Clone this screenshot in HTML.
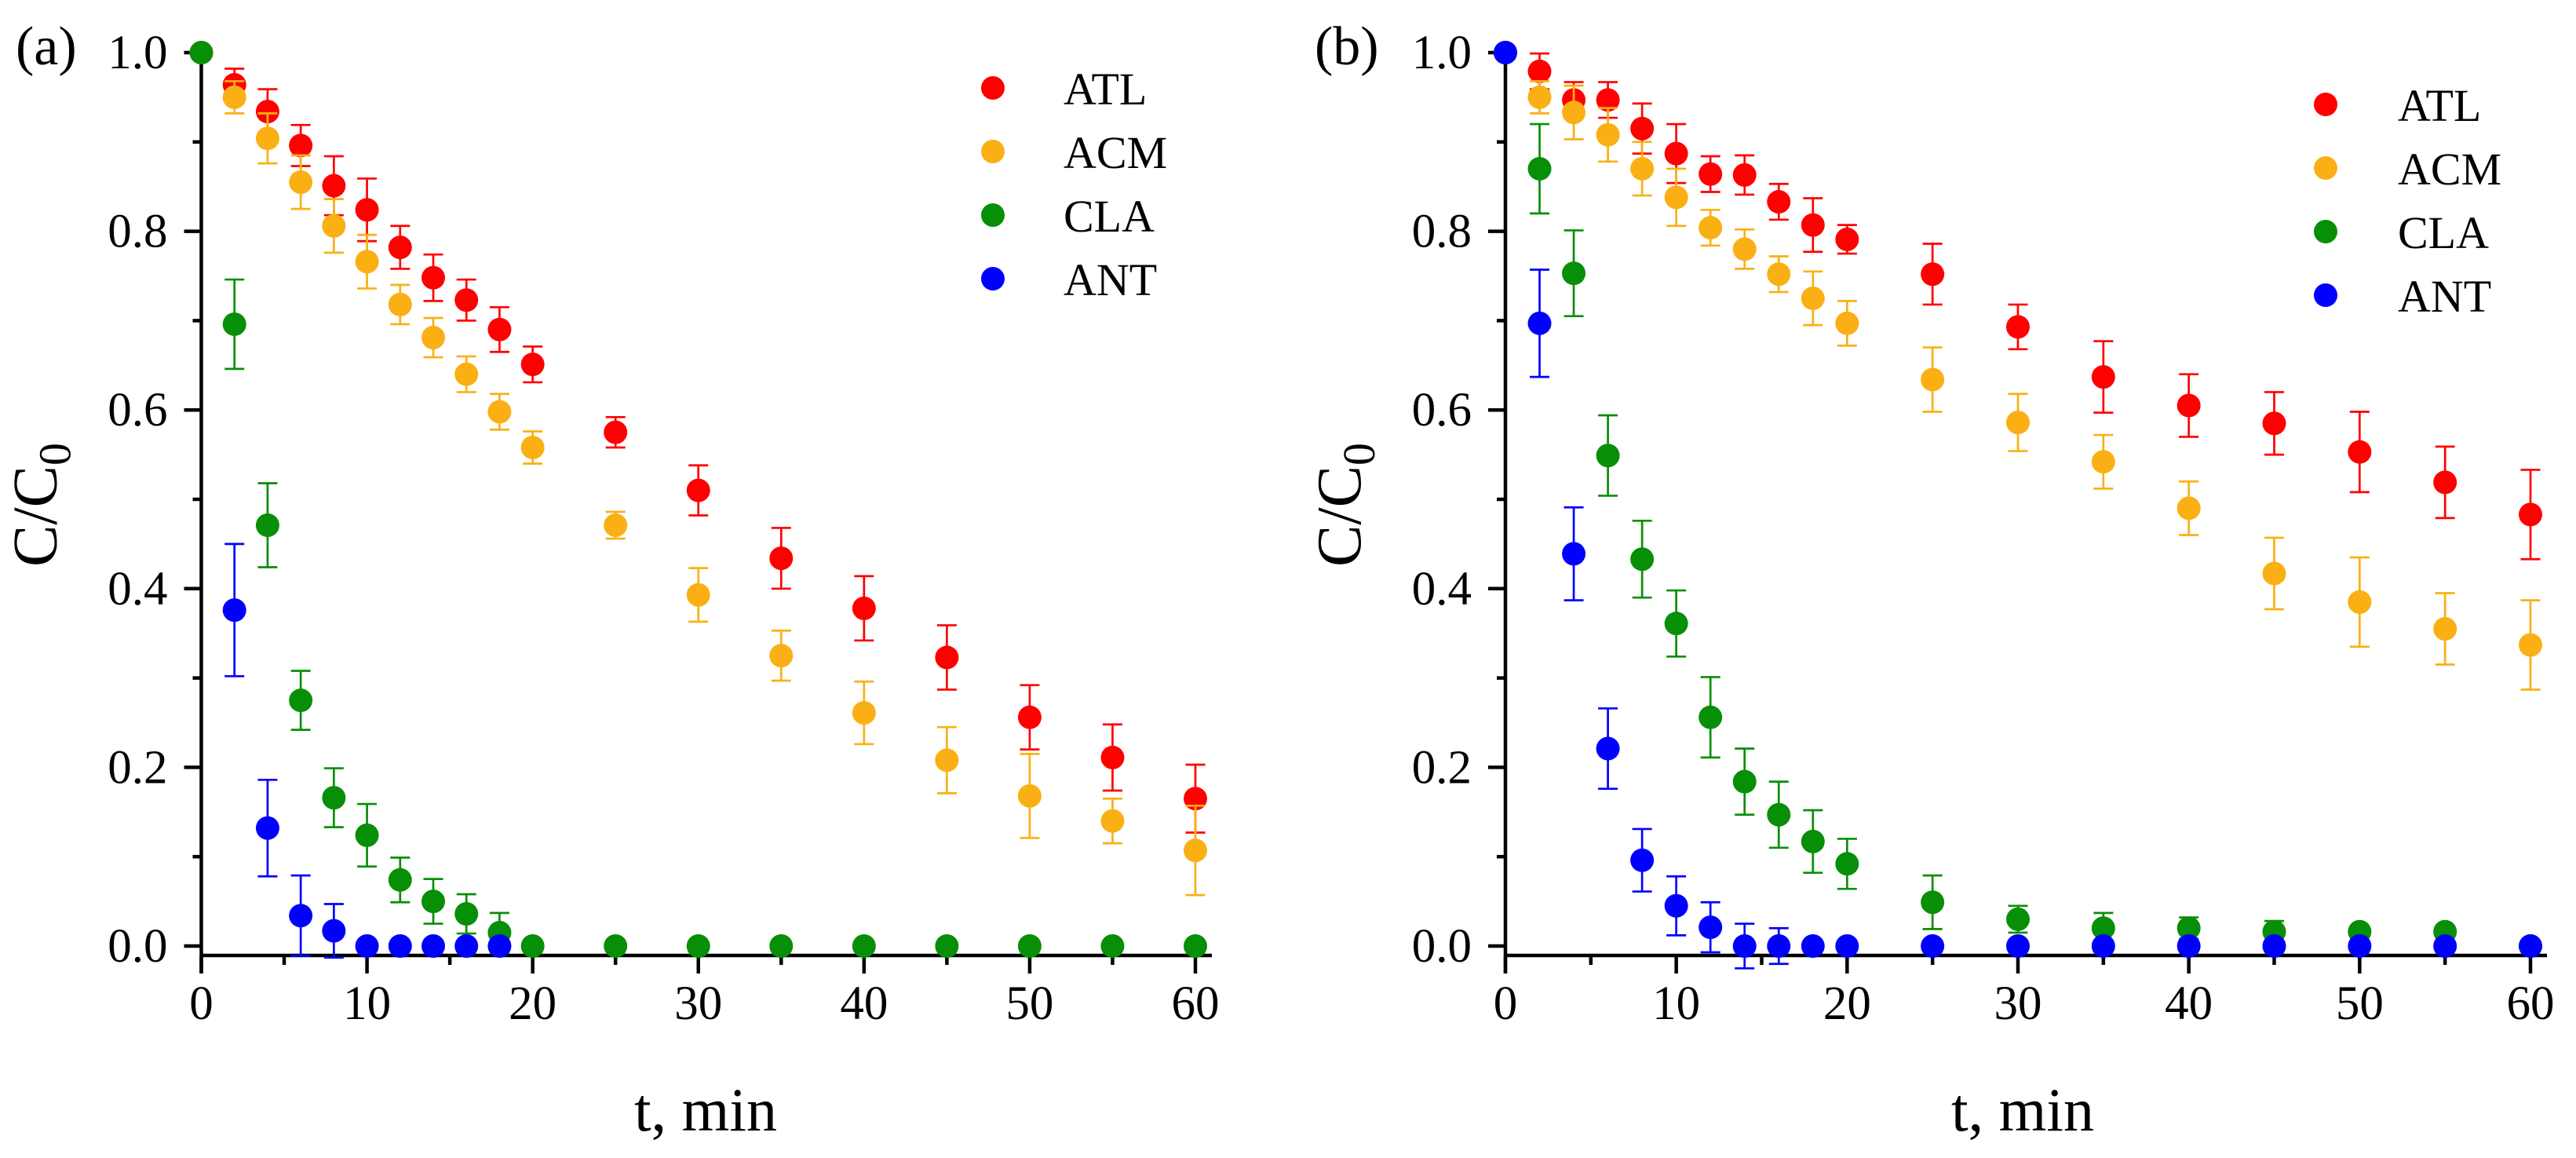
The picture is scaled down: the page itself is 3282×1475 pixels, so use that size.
<!DOCTYPE html>
<html><head><meta charset="utf-8"><style>
html,body{margin:0;padding:0;background:#fff;width:3282px;height:1475px;overflow:hidden}
svg{display:block}
text{font-family:"Liberation Serif",serif;fill:#000}
</style></head><body>
<svg id="fig" width="3282" height="1475" viewBox="0 0 3282 1475" xmlns="http://www.w3.org/2000/svg"></svg>
<script>
const times = [0,2,4,6,8,10,12,14,16,18,20,25,30,35,40,45,50,55,60];
const xTicks = [0,10,20,30,40,50,60];
const yTicks = [0,0.2,0.4,0.6,0.8,1.0];
const yTickLabels = ["0.0","0.2","0.4","0.6","0.8","1.0"];
const seriesNames = ["ATL","ACM","CLA","ANT"];
// Panel (a)
const aATL = [1,0.964,0.934,0.896,0.851,0.824,0.782,0.748,0.723,0.690,0.651,0.575,0.510,0.434,0.378,0.323,0.256,0.211,0.165];
const aATLerr = [0,0.018,0.025,0.023,0.033,0.035,0.024,0.026,0.023,0.025,0.020,0.017,0.028,0.034,0.036,0.036,0.036,0.037,0.038];
const aACM = [1,0.950,0.904,0.855,0.806,0.766,0.718,0.681,0.640,0.598,0.558,0.471,0.393,0.325,0.261,0.208,0.168,0.140,0.107];
const aACMerr = [0,0.018,0.028,0.030,0.030,0.030,0.022,0.022,0.020,0.020,0.018,0.015,0.030,0.028,0.035,0.037,0.047,0.025,0.050];
const aCLA = [1,0.696,0.471,0.275,0.166,0.124,0.074,0.050,0.036,0.015,0,0,0,0,0,0,0,0,0];
const aCLAerr = [0,0.050,0.047,0.033,0.033,0.035,0.025,0.025,0.022,0.022,0,0,0,0,0,0,0,0,0];
const aANT = [null,0.376,0.132,0.034,0.017,0,0,0,0,0,null,null,null,null,null,null,null,null,null];
const aANTerr = [0,0.074,0.054,0.045,0.030,0,0,0,0,0,0,0,0,0,0,0,0,0,0];
// Panel (b)
const bATL = [1,0.979,0.947,0.947,0.915,0.887,0.864,0.863,0.833,0.807,0.791,0.752,0.693,0.637,0.605,0.585,0.553,0.519,0.483];
const bATLerr = [0,0.020,0.020,0.020,0.028,0.033,0.020,0.022,0.020,0.030,0.016,0.034,0.025,0.040,0.035,0.035,0.045,0.040,0.050];
const bACM = [1,0.950,0.933,0.908,0.870,0.838,0.804,0.780,0.752,0.725,0.697,0.634,0.586,0.542,0.490,0.417,0.385,0.355,0.337];
const bACMerr = [0,0.018,0.030,0.030,0.030,0.032,0.020,0.022,0.020,0.030,0.025,0.036,0.032,0.030,0.030,0.040,0.050,0.040,0.050];
const bCLA = [1,0.870,0.753,0.549,0.433,0.361,0.256,0.184,0.147,0.117,0.092,0.049,0.030,0.020,0.020,0.016,0.016,0.016,0];
const bCLAerr = [0,0.050,0.048,0.045,0.043,0.037,0.045,0.037,0.037,0.035,0.028,0.030,0.015,0.017,0.012,0.012,0,0,0];
const bANT = [1,0.697,0.439,0.221,0.096,0.045,0.021,0,0,0,0,0,0,0,0,0,0,0,0];
const bANTerr = [0,0.060,0.052,0.045,0.035,0.033,0.028,0.025,0.020,0,0,0,0,0,0,0,0,0,0];

const colors = ["#ff0000","#fab014","#078f07","#0000ff"];
const NS = "http://www.w3.org/2000/svg";
const svg = document.getElementById("fig");
function mk(tag, attrs, parent){const e=document.createElementNS(NS,tag);for(const k in attrs)e.setAttribute(k,attrs[k]);(parent||svg).appendChild(e);return e;}

const panels = [
  {id:"a", label:"(a)", x0:256.5, x60:1523, axisEnd:1544, labelX:20, legX:1265, legTextX:1355, legY:112,
   data:[[aATL,aATLerr],[aACM,aACMerr],[aCLA,aCLAerr],[aANT,aANTerr]], xlabelCx:899},
  {id:"b", label:"(b)", x0:1918, x60:3224, axisEnd:3245, labelX:1675, legX:2963, legTextX:3055, legY:133,
   data:[[bATL,bATLerr],[bACM,bACMerr],[bCLA,bCLAerr],[bANT,bANTerr]], xlabelCx:2577}
];
const Y0 = 1205, Y1 = 67, AXY = 1217;

panels.forEach(p=>{
  const g = mk("g",{});
  
  
  const xs = v => p.x0 + (p.x60-p.x0)*v/60;
  const ys = v => Y0 + (Y1-Y0)*v;
  // axes
  const ya = mk("line",{x1:p.x0,y1:Y1-2,x2:p.x0,y2:1240,stroke:"#000","stroke-width":4.5},g);
  
  
  const xa = mk("line",{x1:p.x0-2,y1:AXY,x2:p.axisEnd,y2:AXY,stroke:"#000","stroke-width":4.5},g);
  
  
  // y ticks
  yTicks.forEach((t,i)=>{
    mk("line",{x1:p.x0-22,y1:ys(t),x2:p.x0,y2:ys(t),stroke:"#000","stroke-width":4.5},g);
    const tx = mk("text",{x:p.x0-43,y:ys(t)+20,"font-size":61,"text-anchor":"end"},g);
    tx.textContent = yTickLabels[i];
    
    
    if(i<yTicks.length-1){const m=(t+yTicks[i+1])/2; mk("line",{x1:p.x0-11,y1:ys(m),x2:p.x0,y2:ys(m),stroke:"#000","stroke-width":4.5},g);}
  });
  // x ticks
  xTicks.forEach((t,i)=>{
    mk("line",{x1:xs(t),y1:AXY,x2:xs(t),y2:1240,stroke:"#000","stroke-width":4.5},g);
    const tx = mk("text",{x:xs(t),y:1298,"font-size":61,"text-anchor":"middle"},g);
    tx.textContent = String(t);
    
    
    if(i<xTicks.length-1){const m=t+5; mk("line",{x1:xs(m),y1:AXY,x2:xs(m),y2:1229,stroke:"#000","stroke-width":4.5},g);}
  });
  // axis titles
  const xl = mk("text",{x:p.xlabelCx,y:1440,"font-size":78,"text-anchor":"middle"},g);
  xl.textContent = "t, min";
  
  
  const yl = mk("text",{transform:`translate(${p.x0-185},643) rotate(-90)`,"font-size":80,"text-anchor":"middle"},g);
  
  
  yl.innerHTML = 'C/C<tspan dy="18" font-size="58">0</tspan>';
  const pl = mk("text",{x:p.labelX,y:82,"font-size":70},g);
  pl.textContent = p.label;
  
  
  // series
  p.data.forEach((sd,si)=>{
    const [vals,errs]=sd;
    const sg = mk("g",{},g);
    
    
    vals.forEach((v,i)=>{
      if(v===null) return;
      const cx=xs(times[i]), cy=ys(v), e=errs[i];
      if(e>0){
        const eb = mk("path",{d:`M${cx},${ys(v+e)}V${ys(v-e)}M${cx-12.5},${ys(v+e)}H${cx+12.5}M${cx-12.5},${ys(v-e)}H${cx+12.5}`,stroke:colors[si],"stroke-width":2.7,fill:"none"},sg);
        
        
      }
      const c = mk("circle",{cx:cx,cy:cy,r:15,fill:colors[si]},sg);
      
      
    });
  });
  // legend
  seriesNames.forEach((n,i)=>{
    const ly = p.legY + i*81;
    const c = mk("circle",{cx:p.legX,cy:ly,r:15,fill:colors[i]},g);
    
    
    const t = mk("text",{x:p.legTextX,y:ly+21,"font-size":58},g);
    t.textContent = n;
    
    
  });
});
</script>
</body></html>
